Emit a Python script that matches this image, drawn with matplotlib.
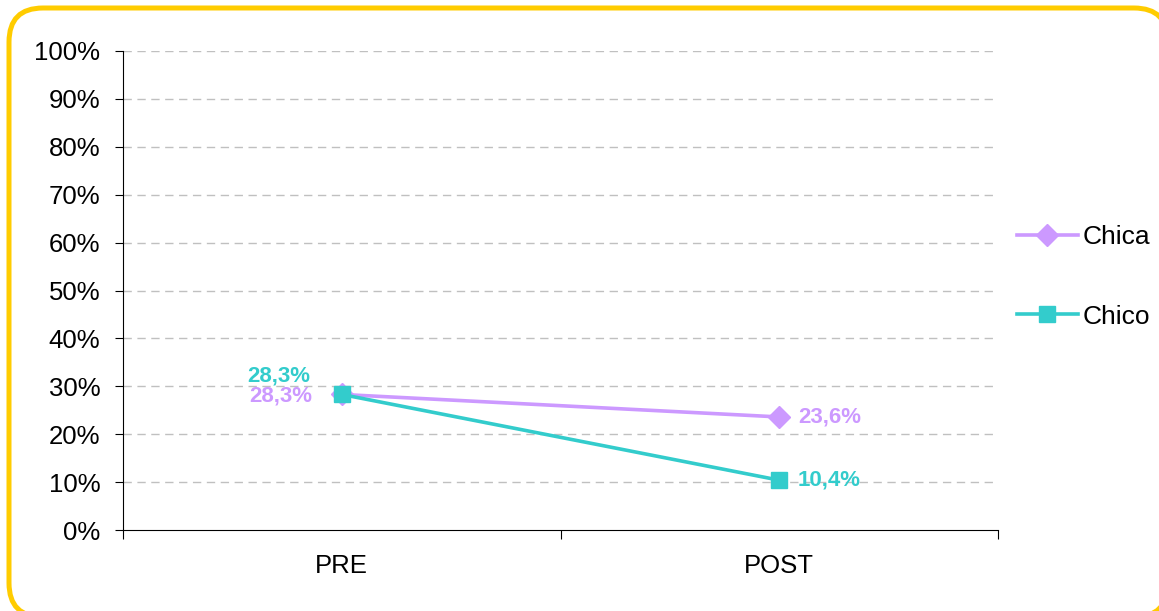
import matplotlib.pyplot as plt
from matplotlib.patches import FancyBboxPatch
from matplotlib.ticker import FuncFormatter, FixedLocator

plt.rcParams['font.family'] = ['Liberation Sans', 'DejaVu Sans']

categories = ["PRE", "POST"]
chica = [28.3, 23.6]
chico = [28.3, 10.4]
series_names = ["Chica", "Chico"]

purple = "#CC99FF"
teal = "#33CCCC"

W, H = 1159, 611
fig = plt.figure(figsize=(W / 100, H / 100), dpi=100)
# yellow rounded frame (in inches), partly running off the right and bottom edges
# white fill keeps Agg from clipping the stroke path at the canvas edge
frame = FancyBboxPatch((0.09, -0.06), 11.59, 6.09,
                       boxstyle="round,pad=0,rounding_size=0.34",
                       transform=fig.dpi_scale_trans, facecolor="white",
                       edgecolor="#FFCC00", linewidth=3.6, zorder=-5)
fig.patches.append(frame)

ax = fig.add_axes([123 / W, 1 - 530 / H, (998 - 123) / W, (530 - 51) / H])
ax.set_facecolor("none")
ax.set_zorder(2)

x = [0.5, 1.5]
ax.plot(x, chica, color=purple, lw=2.6, marker="D", ms=11, label=series_names[0], zorder=3)
ax.plot(x, chico, color=teal, lw=2.6, marker="s", ms=11.5, label=series_names[1], zorder=4)

ax.set_xlim(0, 2)
ax.set_ylim(0, 100)
ax.yaxis.set_major_locator(FixedLocator(range(0, 101, 10)))
ax.yaxis.set_major_formatter(FuncFormatter(lambda v, p: f"{v:.0f}%"))
ax.xaxis.set_major_locator(FixedLocator([0, 1, 2]))
ax.xaxis.set_ticklabels([])
ax.xaxis.set_minor_locator(FixedLocator(x))
ax.xaxis.set_minor_formatter(FuncFormatter(lambda v, p: categories[int(v)]))
ax.tick_params(axis="x", which="minor", length=0, labelsize=18.5, pad=17)
ax.tick_params(axis="x", which="major", length=6.5, direction="out")
ax.tick_params(axis="y", length=5.8, direction="out", labelsize=18.5, pad=10.5)

for v in range(10, 101, 10):
    ax.axhline(v, color="#C0C0C0", lw=1, ls=(0, (6, 4)), zorder=1)

for s in ["top", "right"]:
    ax.spines[s].set_visible(False)

fs = 16
ax.text(x[0] - 0.073, chico[0] + 3.9, f"{chico[0]:.1f}%".replace(".", ","), color=teal,
        fontsize=fs, fontweight="bold", ha="right", va="center")
ax.text(x[0] - 0.068, chica[0] - 0.4, f"{chica[0]:.1f}%".replace(".", ","), color=purple,
        fontsize=fs, fontweight="bold", ha="right", va="center")
ax.text(x[1] + 0.043, chica[1], f"{chica[1]:.1f}%".replace(".", ","), color=purple,
        fontsize=fs, fontweight="bold", ha="left", va="center")
ax.text(x[1] + 0.043, chico[1], f"{chico[1]:.1f}%".replace(".", ","), color=teal,
        fontsize=fs, fontweight="bold", ha="left", va="center")

ax.legend(loc="center left", bbox_to_anchor=(1017 / W, 1 - 277 / H),
          bbox_transform=fig.transFigure, frameon=False, fontsize=19,
          handlelength=2.3, labelspacing=2.1, handletextpad=0.2, borderpad=0,
          borderaxespad=0)

fig.savefig("out.png", dpi=100)
